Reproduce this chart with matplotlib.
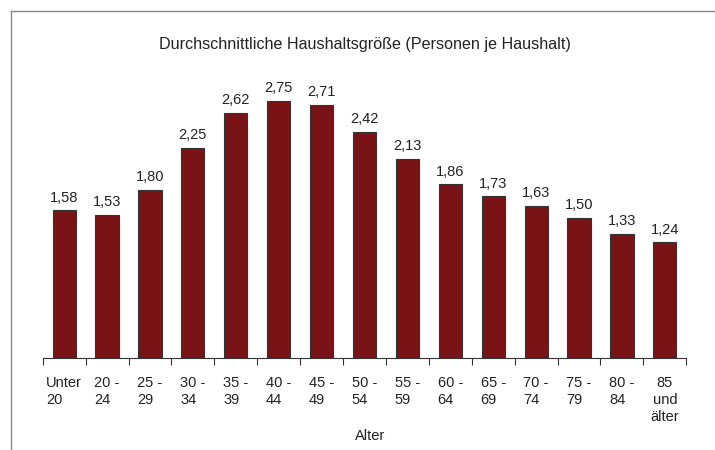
import matplotlib
matplotlib.use("Agg")
import matplotlib.pyplot as plt
from matplotlib.lines import Line2D

categories = ["Unter\n20", "20 -\n24", "25 -\n29", "30 -\n34", "35 -\n39", "40 -\n44", "45 -\n49",
              "50 -\n54", "55 -\n59", "60 -\n64", "65 -\n69", "70 -\n74", "75 -\n79", "80 -\n84",
              "85\nund\nälter"]
values = [1.58, 1.53, 1.80, 2.25, 2.62, 2.75, 2.71, 2.42, 2.13, 1.86, 1.73, 1.63, 1.50, 1.33, 1.24]
title = "Durchschnittliche Haushaltsgröße (Personen je Haushalt)"
xlabel = "Alter"

plt.rcParams['font.family'] = ['Liberation Sans', 'DejaVu Sans']

W, H = 715, 450
fig = plt.figure(figsize=(W/100, H/100), dpi=100)

x0, x1 = 42.7, 686.3
ybase = 358
ppu = 93.5
ymax = 3.0
ax = fig.add_axes([x0/W, (H-ybase)/H, (x1-x0)/W, ymax*ppu/H])

n = len(values)
pos = list(range(n))
ax.bar(pos, values, width=0.54, color='#7a1315', edgecolor='#333333', linewidth=0.8, zorder=3)
ax.set_xlim(-0.5, n-0.5)
ax.set_ylim(0, ymax)

for p, v in zip(pos, values):
    ax.annotate(f"{v:.2f}".replace('.', ','), (p, v), xytext=(0, 4), textcoords='offset points',
                ha='center', va='bottom', fontsize=10.5, color='#222222')

for s in ['top', 'right', 'left']:
    ax.spines[s].set_visible(False)
ax.spines['bottom'].set_color('#333333')
ax.spines['bottom'].set_linewidth(0.8)
ax.set_yticks([])

# ticks at category boundaries
ax.set_xticks([i - 0.5 for i in range(n+1)], minor=False)
ax.set_xticklabels([])
ax.tick_params(axis='x', which='major', length=5, width=0.8, color='#333333', direction='out')

for p, c in zip(pos, categories):
    ma = 'center' if 'und' in c else 'left'
    ax.annotate(c, (p, 0), xytext=(0, -13), textcoords='offset points', ha='center', va='top',
                multialignment=ma, fontsize=10.5, color='#222222', linespacing=1.25)

fig.text(370/W, 1 - 436/H, xlabel, ha='center', va='center', fontsize=10.5, color='#222222')
fig.text(365/W, 1 - 45/H, title, ha='center', va='center', fontsize=11.6, color='#222222')

# frame
fig.add_artist(Line2D([11/W, 1], [1 - 11/H, 1 - 11/H], transform=fig.transFigure, color='#888888', lw=1))
fig.add_artist(Line2D([11/W, 11/W], [0, 1 - 11/H], transform=fig.transFigure, color='#888888', lw=1))

fig.savefig("out.png", dpi=100)
